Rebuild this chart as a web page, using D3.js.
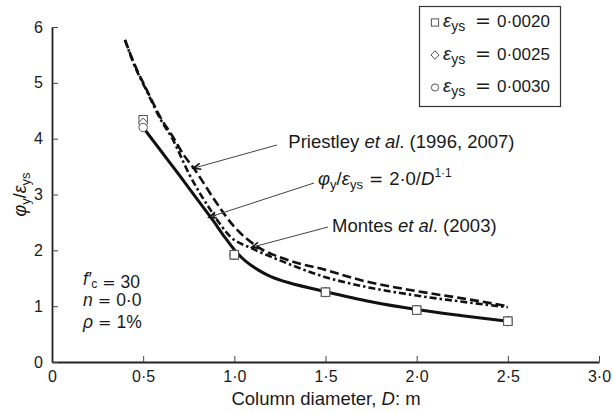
<!DOCTYPE html>
<html><head><meta charset="utf-8">
<script src="https://cdn.jsdelivr.net/npm/d3@7/dist/d3.min.js"></script>
<style>
html,body{margin:0;padding:0;background:#fff;}
text{font-family:"Liberation Sans",Arial,sans-serif;fill:#1a1a1a;}
.eq{font-family:"DejaVu Sans",sans-serif;}
</style></head>
<body><svg id="c" width="614" height="412"></svg>
<script>
// ---- data ----
const xTicks = [0, 0.5, 1.0, 1.5, 2.0, 2.5, 3.0];
const xTickLabels = ["0", "0·5", "1·0", "1·5", "2·0", "2·5", "3·0"];
const yTicks = [0, 1, 2, 3, 4, 5, 6];
const markerD = [0.5, 1.0, 1.5, 2.0, 2.5];
const square20 = [4.34, 1.92, 1.25, 0.93, 0.73];
const diamond25 = [4.28, 1.92, 1.25, 0.93, 0.73];
const circle30 = [4.20, 1.92, 1.25, 0.93, 0.73];
const fitD = [0.5, 0.6, 0.7, 0.8, 0.88, 0.94, 1.0, 1.06, 1.13, 1.2, 1.3, 1.5, 1.75, 2.0, 2.25, 2.5];
const fitV = [4.20, 3.77, 3.34, 2.90, 2.55, 2.27, 2.01, 1.81, 1.65, 1.53, 1.42, 1.26, 1.08, 0.94, 0.83, 0.73];
const priestleyD = [0.40, 0.45, 0.52, 0.60, 0.66, 0.72, 0.78, 0.90, 1.00, 1.12, 1.30, 1.50, 1.70, 2.00, 2.25, 2.50];
const priestleyV = [5.77, 5.35, 4.87, 4.35, 4.05, 3.72, 3.46, 2.86, 2.42, 2.08, 1.82, 1.65, 1.46, 1.27, 1.14, 1.00];
const montesD = [0.40, 0.45, 0.52, 0.60, 0.66, 0.75, 0.87, 0.98, 1.10, 1.25, 1.50, 1.70, 2.00, 2.25, 2.50];
const montesV = [5.77, 5.33, 4.85, 4.32, 4.00, 3.38, 2.72, 2.24, 2.03, 1.82, 1.52, 1.36, 1.19, 1.08, 0.98];
const legendLabels = ["0·0020", "0·0025", "0·0030"];
const legendShapes = ["square", "diamond", "circle"];
// annotation anchors in data units: [tipD, tipV, fromD, fromV, textD, textV]
const annPriestley = [0.775, 3.47, 1.234, 3.887, 1.296, 3.828];
const annFormula = [0.861, 2.592, 1.437, 3.206, 1.459, 3.170];
const annMontes = [1.095, 2.054, 1.514, 2.418, 1.536, 2.334];

// ---- chart ----
const svg = d3.select("#c");
const x = d3.scaleLinear().domain([0, 3]).range([52, 599]);
const y = d3.scaleLinear().domain([0, 6]).range([362, 27]);
const FS = 16, FA = 18.5;

// axes
const xAxis = svg.append("g").attr("transform", `translate(0,${y(0)})`)
  .call(d3.axisBottom(x).tickValues(xTicks).tickSizeInner(-6).tickSizeOuter(0)
    .tickPadding(9).tickFormat((d, i) => xTickLabels[i]));
const yAxis = svg.append("g").attr("transform", `translate(${x(0)},0)`)
  .call(d3.axisLeft(y).tickValues(yTicks).tickSizeInner(-6).tickSizeOuter(0)
    .tickPadding(9).tickFormat(d3.format("d")));
[xAxis, yAxis].forEach(g => {
  g.select(".domain").attr("stroke", "#222").attr("stroke-width", 1.8);
  g.selectAll(".tick line").attr("stroke", "#444").attr("stroke-width", 1);
  g.selectAll(".tick text").attr("font-size", FS).attr("font-family", "Liberation Sans, Arial, sans-serif").attr("fill", "#1a1a1a");
});
xAxis.selectAll(".tick text").attr("dy", "0.71em");

// axis titles
const xt = svg.append("text").attr("x", 326).attr("y", 405).attr("text-anchor", "middle").attr("font-size", FA);
xt.append("tspan").text("Column diameter, ");
xt.append("tspan").attr("font-style", "italic").text("D");
xt.append("tspan").text(": m");

const yt = svg.append("text").attr("transform", `translate(26,${(y(0) + y(6)) / 2}) rotate(-90)`)
  .attr("text-anchor", "middle").attr("font-size", 18);
yt.append("tspan").attr("font-style", "italic").text("φ");
yt.append("tspan").attr("font-size", 13).attr("dy", 4).text("y");
yt.append("tspan").attr("dy", -4).text("/");
yt.append("tspan").attr("font-style", "italic").text("ε");
yt.append("tspan").attr("font-size", 13).attr("dy", 4).text("ys");

// curves
const line = d3.line().x(d => x(d[0])).y(d => y(d[1]));
const zip = (a, b) => a.map((v, i) => [v, b[i]]);
svg.append("path").attr("d", line.curve(d3.curveMonotoneX)(zip(priestleyD, priestleyV))).attr("fill", "none")
  .attr("stroke", "#111").attr("stroke-width", 2.6).attr("stroke-dasharray", "9,4");
svg.append("path").attr("d", line.curve(d3.curveMonotoneX)(zip(montesD, montesV))).attr("fill", "none")
  .attr("stroke", "#111").attr("stroke-width", 2.6).attr("stroke-dasharray", "7,3,2.5,3");
svg.append("path").attr("d", line.curve(d3.curveCatmullRom.alpha(0.5))(zip(fitD, fitV))).attr("fill", "none")
  .attr("stroke", "#111").attr("stroke-width", 3);

// markers
function drawMarker(g, shape, cx, cy, s) {
  if (shape === "square") {
    g.append("rect").attr("x", cx - s).attr("y", cy - s).attr("width", 2 * s).attr("height", 2 * s)
      .attr("fill", "#fff").attr("stroke", "#555").attr("stroke-width", 1);
  } else if (shape === "diamond") {
    g.append("path").attr("d", `M${cx},${cy - s * 1.2}L${cx + s * 1.1},${cy}L${cx},${cy + s * 1.2}L${cx - s * 1.1},${cy}Z`)
      .attr("fill", "#fff").attr("stroke", "#555").attr("stroke-width", 1);
  } else {
    g.append("circle").attr("cx", cx).attr("cy", cy).attr("r", s)
      .attr("fill", "#fff").attr("stroke", "#555").attr("stroke-width", 1);
  }
}
const mg = svg.append("g");
[["square", square20], ["diamond", diamond25], ["circle", circle30]].forEach(([shape, vals]) => {
  markerD.forEach((d, i) => drawMarker(mg, shape, x(d), y(vals[i]), 4.2));
});
markerD.forEach((d, i) => { if (i > 0) drawMarker(mg, "square", x(d), y(square20[i]), 4.2); });

// annotations
function leader(a) {
  const tx = x(a[0]), ty = y(a[1]), fx = x(a[2]), fy = y(a[3]);
  svg.append("line").attr("x1", fx).attr("y1", fy).attr("x2", tx).attr("y2", ty)
    .attr("stroke", "#444").attr("stroke-width", 1);
  const ang = Math.atan2(fy - ty, fx - tx), L = 8, w = 0.4;
  const p1 = [tx + L * Math.cos(ang + w), ty + L * Math.sin(ang + w)];
  const p2 = [tx + L * Math.cos(ang - w), ty + L * Math.sin(ang - w)];
  svg.append("path").attr("d", `M${p1}L${tx},${ty}L${p2}`).attr("fill", "none")
    .attr("stroke", "#111").attr("stroke-width", 1.6);
}
leader(annPriestley); leader(annFormula); leader(annMontes);

const tp = svg.append("text").attr("x", x(annPriestley[4])).attr("y", y(annPriestley[5])).attr("font-size", FA);
tp.append("tspan").text("Priestley ");
tp.append("tspan").attr("font-style", "italic").text("et al");
tp.append("tspan").text(". (1996, 2007)");

// formula: phi_y/eps_ys = 2·0/D^1·1
const fx0 = x(annFormula[4]), fy0 = y(annFormula[5]);
const tf = svg.append("text").attr("x", fx0).attr("y", fy0).attr("font-size", FA);
tf.append("tspan").attr("font-style", "italic").text("φ");
tf.append("tspan").attr("font-size", 13).attr("dy", 4).text("y");
tf.append("tspan").attr("dy", -4).text("/");
tf.append("tspan").attr("font-style", "italic").text("ε");
tf.append("tspan").attr("font-size", 13).attr("dy", 4).text("ys");
tf.append("tspan").attr("dy", -4).attr("dx", 6).attr("class", "eq").attr("font-size", 17).text("=");
tf.append("tspan").attr("dx", 6).text("2·0/");
tf.append("tspan").attr("font-style", "italic").text("D");
tf.append("tspan").attr("font-size", 12).attr("dy", -8).text("1·1");

const tm = svg.append("text").attr("x", x(annMontes[4])).attr("y", y(annMontes[5])).attr("font-size", FA);
tm.append("tspan").text("Montes ");
tm.append("tspan").attr("font-style", "italic").text("et al");
tm.append("tspan").text(". (2003)");

// parameters block
const PF = 17.5;
function param(yb, build, val) {
  const t = svg.append("text").attr("x", 83).attr("y", yb).attr("font-size", PF);
  build(t);
  t.append("tspan").attr("dx", 5).attr("class", "eq").attr("font-size", 16).text("=");
  t.append("tspan").attr("dx", 5).text(val);
}
param(284.5, t => {
  t.append("tspan").attr("font-style", "italic").text("f′");
  t.append("tspan").attr("font-size", 12).attr("dy", 3).text("c");
  t.append("tspan").attr("dy", -3).text("");
}, "30");
param(306, t => { t.append("tspan").attr("font-style", "italic").text("n"); }, "0·0");
param(327.5, t => { t.append("tspan").attr("font-style", "italic").text("ρ"); }, "1%");

// legend
const lg = svg.append("g");
lg.append("rect").attr("x", 419.5).attr("y", 6.5).attr("width", 141).attr("height", 100)
  .attr("fill", "#fff").attr("stroke", "#333").attr("stroke-width", 1.2);
legendLabels.forEach((lab, i) => {
  const by = 27 + i * 32.5;
  drawMarker(lg, legendShapes[i], 435, by - 4.5, 3.6);
  const t = lg.append("text").attr("x", 443).attr("y", by).attr("font-size", 19);
  t.append("tspan").attr("font-style", "italic").text("ε");
  t.append("tspan").attr("font-size", 14).attr("dy", 4).text("ys");
  lg.append("text").attr("x", 475).attr("y", by).attr("class", "eq").attr("font-size", 19).text("=");
  lg.append("text").attr("x", 497).attr("y", by).attr("font-size", 17).text(lab);
});
</script></body></html>
